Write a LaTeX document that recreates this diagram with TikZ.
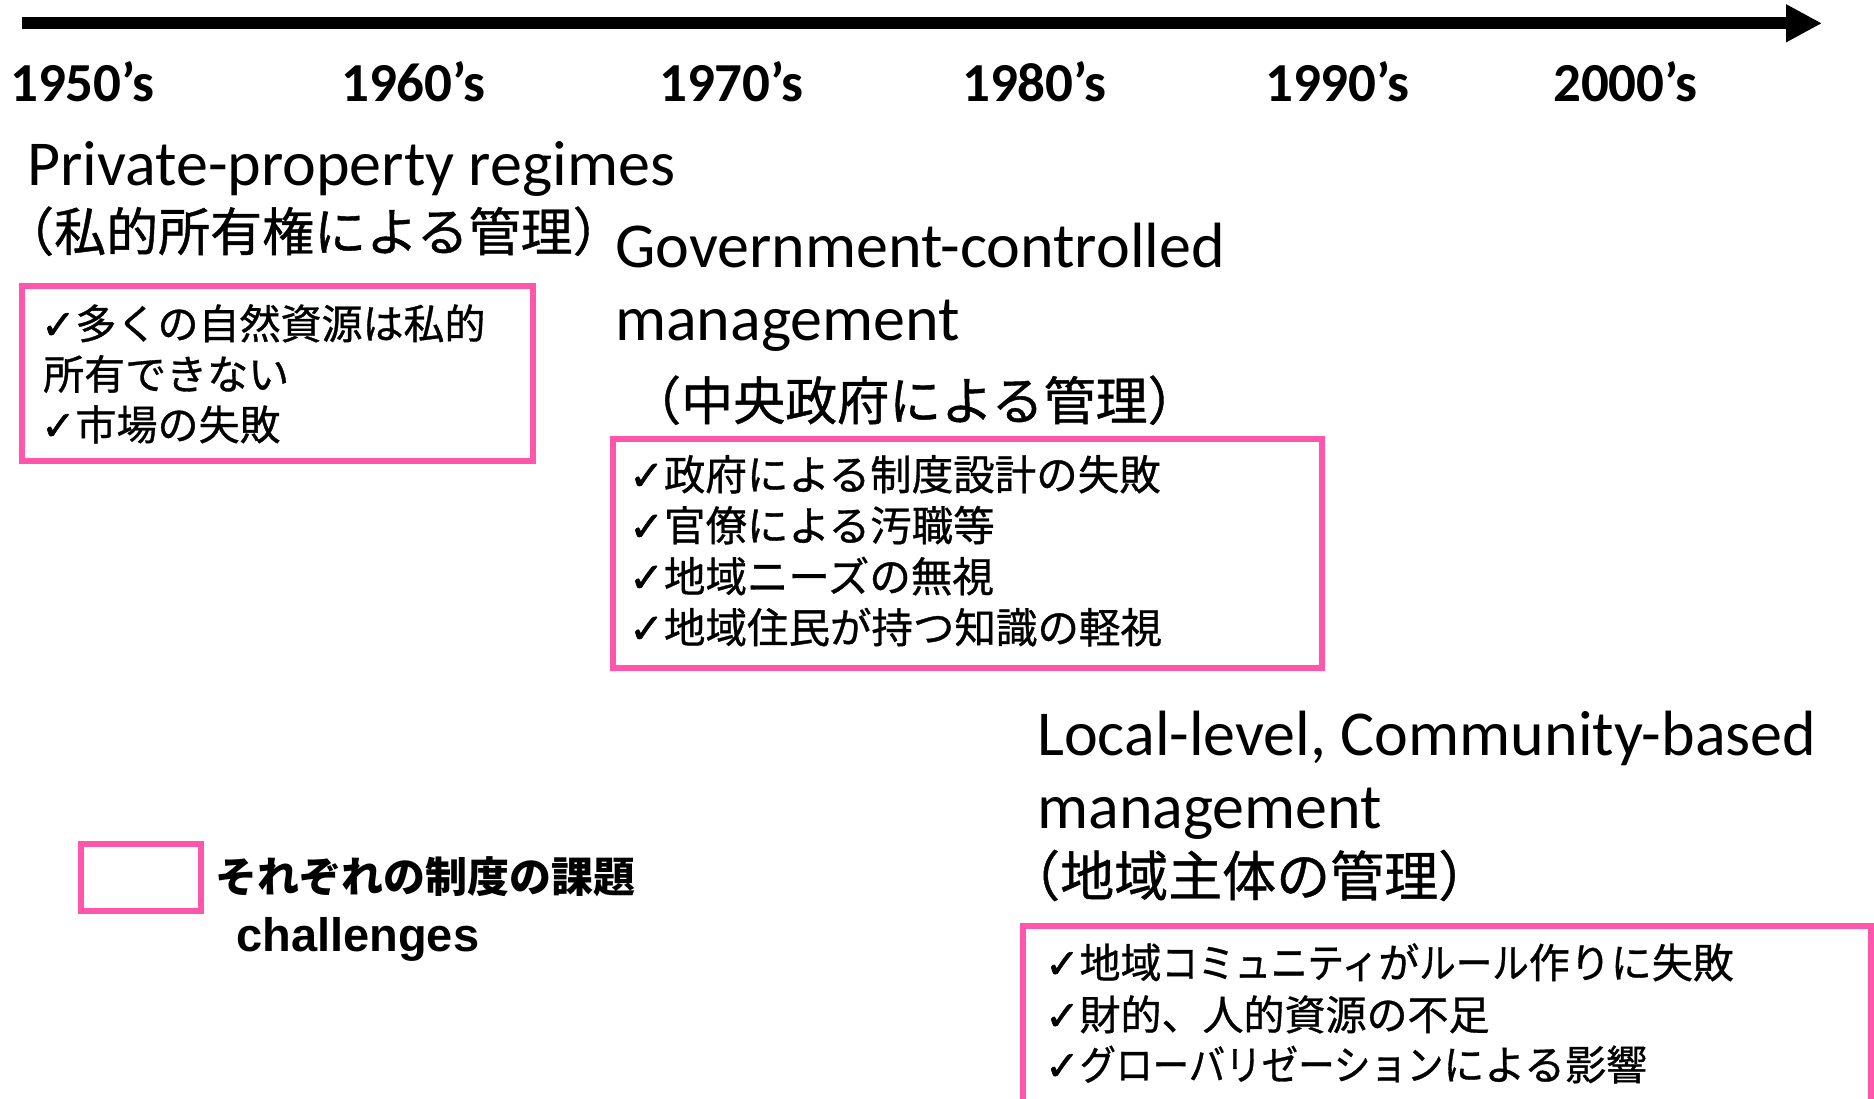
\documentclass[tikz,border=0pt]{standalone}
\usepackage{fontspec}
\setmainfont{Carlito}
\newfontfamily\jpf{Noto Sans CJK JP}[FakeBold=0.8]
\newfontfamily\jpbf{Noto Sans CJK JP}
\newfontfamily\dvf{DejaVu Sans}[FakeBold=1.5]
\newfontfamily\lsf{Liberation Sans}
\usetikzlibrary{arrows.meta}
\definecolor{pinkc}{RGB}{255,85,170}
\newcommand\chk{{\dvf ✓}}
\newcommand\kana[1]{\scalebox{0.89}[1]{#1}}
\begin{document}
\begin{tikzpicture}[x=1pt,y=-1pt,
  year/.style={anchor=base west, inner sep=0pt, font=\fontsize{55}{62}\selectfont\bfseries},
  heading/.style={anchor=base west, inner sep=0pt, font=\fontsize{64}{73}\selectfont},
  jphead/.style={anchor=base west, inner sep=0pt, font=\fontsize{52}{60}\selectfont\jpf},
  boxtext/.style={anchor=base west, inner sep=0pt, font=\fontsize{41}{50}\selectfont\jpf},
  pinkbox/.style={draw=pinkc, line width=6pt},
]
\useasboundingbox (0,0) rectangle (1874,1099);
% timeline
\coordinate (tl0) at (22,23.3);
\coordinate (tl1) at (1822,23.3);
\draw[line width=12pt, -{Triangle[length=36pt,width=35.5pt]}] (tl0) -- (tl1);
% years
\node[year] (y50) at (10,102) {1950’s};
\node[year] (y60) at (341,102) {1960’s};
\node[year] (y70) at (659,102) {1970’s};
\node[year] (y80) at (962,102) {1980’s};
\node[year] (y90) at (1265,102) {1990’s};
\node[year] (y00) at (1553,102) {2000’s};
% private property
\node[heading] (h1) at (27,186) {Private-property regimes};
\node[jphead] (h1j) at (2,251) {（私的所有権による管理）};
\draw[pinkbox] (22,286) rectangle (533,460.5);
\node[boxtext] (b1a) at (41,339) {\chk 多くの自然資源は私的};
\node[boxtext] (b1b) at (43,389.5) {所有できない};
\node[boxtext] (b1c) at (41,440) {\chk 市場の失敗};
% government
\node[heading] (h2a) at (615,268) {Government-controlled};
\node[heading] (h2b) at (615,341) {management};
\node[jphead] (h2j) at (629,420) {（中央政府による管理）};
\draw[pinkbox] (613,439) rectangle (1322,668);
\begin{scope}[boxtext/.append style={font=\fontsize{41.5}{50}\selectfont\jpf}]
\node[boxtext] (b2a) at (629,490) {\chk 政府による制度設計の失敗};
\node[boxtext] (b2b) at (629,541) {\chk 官僚による汚職等};
\node[boxtext] (b2c) at (629,592) {\chk 地域ニーズの無視};
\node[boxtext] (b2d) at (629,643) {\chk 地域住民が持つ知識の軽視};
\end{scope}
% local
\node[heading] (h3a) at (1037,755) {Local-level, Community-based};
\node[heading] (h3b) at (1037,828) {management};
\node[jphead, font=\fontsize{54}{60}\selectfont\jpf] (h3j) at (1006,896) {（地域主体の管理）};
\draw[pinkbox] (1023,926) rectangle (1870.5,1130);
\node[boxtext] (b3a) at (1045,978) {\chk 地域\kana{コミュニティ}が\kana{ルール}作りに失敗};
\node[boxtext] (b3b) at (1045,1030) {\chk 財的、人的資源の不足};
\node[boxtext] (b3c) at (1045,1080) {\chk \kana{グローバリゼーション}による影響};
% legend
\draw[pinkbox] (80.5,844) rectangle (201,911);
\node[anchor=base west, inner sep=0pt, font=\fontsize{42}{50}\selectfont\jpbf\bfseries] (lg1) at (215.5,892) {それぞれの制度の課題};
\node[anchor=base west, inner sep=0pt, font=\fontsize{47}{55}\selectfont\lsf\bfseries] (lg2) at (236,951.5) {challenges};
\end{tikzpicture}
\end{document}
